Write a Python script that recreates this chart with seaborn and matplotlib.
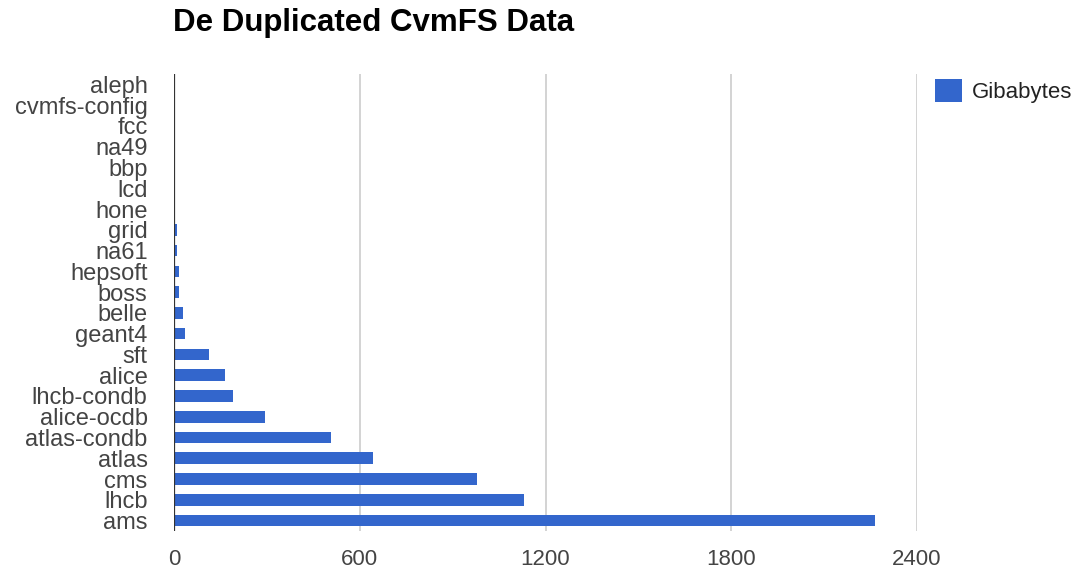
import matplotlib
matplotlib.use("Agg")
import matplotlib.pyplot as plt
import seaborn as sns
import pandas as pd
from matplotlib.patches import Patch

categories = ["aleph", "cvmfs-config", "fcc", "na49", "bbp", "lcd", "hone", "grid",
              "na61", "hepsoft", "boss", "belle", "geant4", "sft", "alice", "lhcb-condb",
              "alice-ocdb", "atlas-condb", "atlas", "cms", "lhcb", "ams"]
gibabytes = [0.05, 0.1, 0.2, 0.3, 0.5, 3, 4, 9, 9, 16, 16, 29, 35, 113, 165, 190,
             294, 506, 642, 978, 1132, 2265]
x_ticks = [0, 600, 1200, 1800, 2400]

sns.set_theme(style="white")
plt.rcParams['font.family'] = ['Liberation Sans', 'DejaVu Sans']

df = pd.DataFrame({"category": categories, "Gibabytes": gibabytes})

fig = plt.figure(figsize=(10.86, 5.71), dpi=100)
ax = fig.add_axes([174/1086, 1-531/571, (917-174)/1086, (531-74)/571])

sns.barplot(data=df, x="Gibabytes", y="category", orient="h", color="#3366cc",
            saturation=1, width=0.56, edgecolor="none", ax=ax)

ax.set_xlim(0, 2400)
ax.set_ylim(len(categories)-0.5, -0.5)
ax.set_xticks(x_ticks)
ax.set_xticklabels([str(t) for t in x_ticks])
for t in x_ticks[1:]:
    ax.axvline(t, color="#cccccc", lw=1.2, zorder=0)
ax.axvline(0, color="#333333", lw=1.6, zorder=3)

for s in ["top", "right", "bottom", "left"]:
    ax.spines[s].set_visible(False)

ax.set_xlabel("")
ax.set_ylabel("")
ax.tick_params(axis="x", length=0, pad=13, labelsize=16, labelcolor="#444444")
ax.tick_params(axis="y", length=0, pad=19, labelsize=17, labelcolor="#444444")

fig.text(173/1086, 1-23/571, "De Duplicated CvmFS Data", fontsize=22.5, fontweight="bold",
         color="black", ha="left", va="center")

handles = [Patch(facecolor="#3366cc", edgecolor="none", label="Gibabytes")]
fig.legend(handles=handles, loc="upper left", bbox_to_anchor=(926/1086, 1-70/571),
           frameon=False, fontsize=16, handlelength=1.2, handleheight=1.2,
           handletextpad=0.45, borderaxespad=0.0, labelcolor="#222222")

fig.savefig("out.png", dpi=100)
